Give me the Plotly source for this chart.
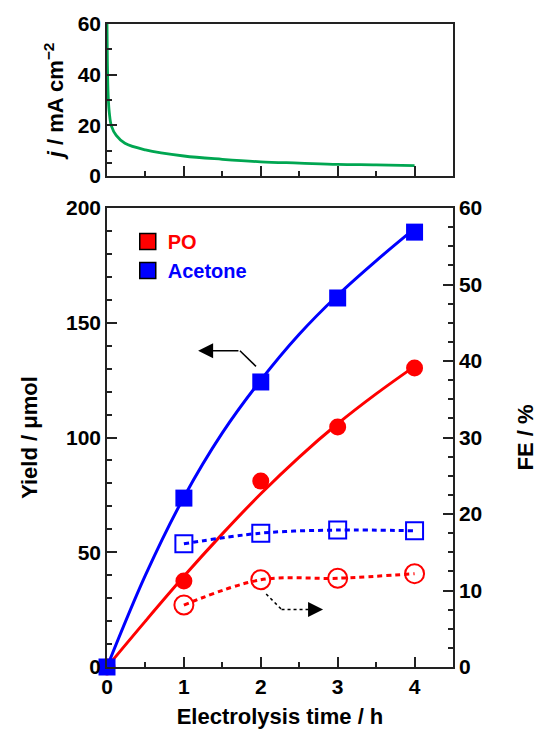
import plotly.graph_objects as go

# ---- data ----
time_h = [0, 1, 2, 3, 4]
acetone_yield = [0, 73.6, 124.2, 160.8, 189.5]
po_yield = [0, 37.5, 81.0, 104.6, 130.3]
# fitted curves
fit_time = [0, 0.5, 1, 1.5, 2, 2.5, 3, 3.5, 4]
acetone_fit = [0, 40, 74, 102, 125, 145, 162, 177, 191]
po_fit = [0, 20, 39.5, 58, 75.5, 91.5, 106, 119, 131]
fe_time = [1, 2, 3, 4]
acetone_fe = [16.1, 17.5, 17.9, 17.8]
po_fe = [8.1, 11.4, 11.6, 12.2]
j_time = [0, 0.005, 0.015, 0.03, 0.058, 0.12, 0.233, 0.5, 1.0, 1.5, 2.0, 2.5, 3.0, 3.5, 4.0]
j_vals = [60, 45, 32, 25, 19.7, 16, 12.9, 10.3, 7.9, 6.6, 5.6, 5.1, 4.6, 4.4, 4.1]

RED = "#ff0000"
BLUE = "#0000ff"
GREEN = "#00a651"
FONT = "Liberation Sans"

fig = go.Figure()

# current density (top panel)
fig.add_trace(go.Scatter(x=j_time, y=j_vals, mode="lines", xaxis="x2", yaxis="y3",
                         line=dict(color=GREEN, width=2.8, shape="spline"),
                         showlegend=False))

# FE (right axis)
fig.add_trace(go.Scatter(x=fe_time, y=po_fe, mode="lines+markers", xaxis="x", yaxis="y2",
                         line=dict(color=RED, width=3, dash="5px,4px", shape="spline"),
                         marker=dict(symbol="circle-open", size=19, color=RED, line=dict(width=2)),
                         showlegend=False, cliponaxis=False))
fig.add_trace(go.Scatter(x=fe_time, y=acetone_fe, mode="lines+markers", xaxis="x", yaxis="y2",
                         line=dict(color=BLUE, width=3, dash="5px,4px", shape="spline"),
                         marker=dict(symbol="square-open", size=17, color=BLUE, line=dict(width=2)),
                         showlegend=False, cliponaxis=False))

# yield fit lines
fig.add_trace(go.Scatter(x=fit_time, y=po_fit, mode="lines", xaxis="x", yaxis="y",
                         line=dict(color=RED, width=3, shape="spline"), showlegend=False))
fig.add_trace(go.Scatter(x=fit_time, y=acetone_fit, mode="lines", xaxis="x", yaxis="y",
                         line=dict(color=BLUE, width=3, shape="spline"), showlegend=False))

# yields (left axis)
fig.add_trace(go.Scatter(x=time_h, y=po_yield, mode="markers", xaxis="x", yaxis="y",
                         marker=dict(symbol="circle", size=17, color=RED),
                         showlegend=False, cliponaxis=False))
fig.add_trace(go.Scatter(x=time_h, y=acetone_yield, mode="markers", xaxis="x", yaxis="y",
                         marker=dict(symbol="square", size=17, color=BLUE),
                         showlegend=False, cliponaxis=False))

# legend entries
for name, col in [("PO", RED), ("Acetone", BLUE)]:
    fig.add_trace(go.Scatter(x=[None], y=[None], mode="markers", xaxis="x", yaxis="y",
                             name=f"<span style='color:{col}'>{name}</span>",
                             marker=dict(symbol="square", size=16, color=col,
                                         line=dict(color="black", width=1.5))))

axis_common = dict(showline=True, linewidth=1.5, linecolor="#222", mirror=True,
                   ticks="inside", tickwidth=1.5, tickcolor="#222", ticklen=10,
                   showgrid=False, zeroline=False, automargin=False,
                   tickfont=dict(family=FONT, size=21, color="black", weight="bold"))

fig.update_layout(
    width=538, height=736,
    margin=dict(l=107, r=85, t=24, b=69),
    plot_bgcolor="white", paper_bgcolor="white",
    font=dict(family=FONT, size=21, color="black", weight="bold"),
    xaxis=dict(**axis_common, domain=[0, 1], anchor="y", range=[0, 4.5],
               tickvals=[0, 1, 2, 3, 4],
               minor=dict(tickvals=[0.5, 1.5, 2.5, 3.5], ticks="inside", ticklen=5,
                          tickwidth=1.5, tickcolor="#222"),
               title=dict(text="Electrolysis time / h", standoff=12,
                          font=dict(family=FONT, size=22, weight="bold"))),
    yaxis=dict(**axis_common, domain=[0, 0.7138], anchor="x", range=[0, 200],
               tickvals=[0, 50, 100, 150, 200],
               minor=dict(dtick=10, ticks="inside", ticklen=5, tickwidth=1.5, tickcolor="#222"),
               title=dict(text="Yield / μmol", standoff=22,
                          font=dict(family=FONT, size=22, weight="bold"))),
    yaxis2=dict(**{k: v for k, v in axis_common.items() if k != "mirror"},
                overlaying="y", side="right", anchor="x", range=[0, 60],
                tickvals=[0, 10, 20, 30, 40, 50, 60],
                minor=dict(dtick=2.5, ticks="inside", ticklen=5, tickwidth=1.5, tickcolor="#222"),
                title=dict(text="FE / %", standoff=40,
                           font=dict(family=FONT, size=22, weight="bold"))),
    xaxis2=dict(**axis_common, domain=[0, 1], anchor="y3", range=[0, 4.5],
                tickvals=[1, 2, 3, 4], showticklabels=False,
                minor=dict(tickvals=[0.5, 1.5, 2.5, 3.5], ticks="inside", ticklen=5,
                           tickwidth=1.5, tickcolor="#222")),
    yaxis3=dict(**axis_common, domain=[0.7636, 1], anchor="x2", range=[0, 60],
                tickvals=[0, 20, 40, 60],
                minor=dict(tickvals=[5, 10, 30, 50], ticks="inside", ticklen=5,
                           tickwidth=1.5, tickcolor="#222"),
                title=dict(text="<i>j</i> / mA cm<sup>−2</sup>", standoff=8,
                           font=dict(family=FONT, size=22, weight="bold"))),
    legend=dict(x=0.06, y=0.692, xanchor="left", yanchor="top",
                bgcolor="rgba(0,0,0,0)", font=dict(family=FONT, size=20, weight="bold"),
                tracegroupgap=0, itemsizing="trace"),
)

# arrows
fig.add_shape(type="line", xref="x", yref="y", x0=1.729, y0=137.8, x1=1.938, y1=131,
              line=dict(color="black", width=1.5))
fig.add_annotation(x=1.185, y=137.8, ax=1.729, ay=137.8, xref="x", yref="y",
                   axref="x", ayref="y", text="", showarrow=True,
                   arrowhead=2, arrowsize=2, arrowwidth=1.5, arrowcolor="black")
fig.add_shape(type="line", xref="x", yref="y", x0=2.07, y0=31.8, x1=2.27, y1=25.1,
              line=dict(color="black", width=1.5, dash="dot"))
fig.add_shape(type="line", xref="x", yref="y", x0=2.27, y0=25.1, x1=2.64, y1=25.1,
              line=dict(color="black", width=1.5, dash="dot"))
fig.add_annotation(x=2.81, y=25.1, ax=2.64, ay=25.1, xref="x", yref="y",
                   axref="x", ayref="y", text="", showarrow=True,
                   arrowhead=2, arrowsize=2, arrowwidth=1.5, arrowcolor="black")

fig.write_html("out.html")
